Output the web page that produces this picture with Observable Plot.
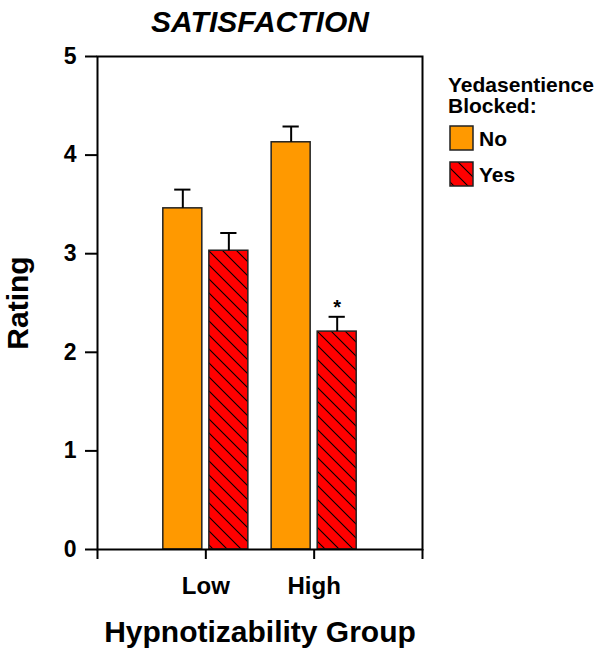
<!DOCTYPE html>
<html><head><meta charset="utf-8">
<script src="https://cdn.jsdelivr.net/npm/d3@7"></script>
<script src="https://cdn.jsdelivr.net/npm/@observablehq/plot@0.6"></script>
<style>
body{margin:0;background:#fff;}
#wrap{position:relative;width:600px;height:650px;font-family:"Liberation Sans",Arial,sans-serif;}
#legend{position:absolute;left:440px;top:60px;}
</style></head><body><div id="wrap"></div>
<script>
const groups = ["Low", "High"];
const series = ["No", "Yes"];
const noMeans = [3.46, 4.13];
const noErrors = [0.19, 0.16];
const yesMeans = [3.03, 2.21];
const yesErrors = [0.18, 0.15];
const yesSignificant = [false, true];
const xTickLabels = ["", "Low", "High", ""];
const xTicks = [0, 1, 2, 3];
const yTicks = [0, 1, 2, 3, 4, 5];
const seriesColors = ["#FF9900", "#FF0000"];
const titleText = "SATISFACTION";
const xTitle = "Hypnotizability Group";
const yTitle = "Rating";
const legendTitle = ["Yedasentience", "Blocked:"];

const data = [];
groups.forEach((g, i) => {
  data.push({group: g, gi: i, series: series[0], si: 0, value: noMeans[i], err: noErrors[i], sig: false});
  data.push({group: g, gi: i, series: series[1], si: 1, value: yesMeans[i], err: yesErrors[i], sig: yesSignificant[i]});
});

const barW = 0.36, halfGap = 0.0325, capHalf = 0.075;
const bx1 = d => d.gi + 1 + (d.si === 0 ? -halfGap - barW : halfGap);
const bx2 = d => bx1(d) + barW;
const bxc = d => bx1(d) + barW / 2;
const FONT = "Liberation Sans, Arial, sans-serif";

const chart = Plot.plot({
  width: 600, height: 650,
  marginTop: 56, marginBottom: 101, marginLeft: 97, marginRight: 178,
  style: {fontFamily: FONT, color: "black", background: "white", overflow: "visible"},
  x: {type: "linear", domain: [0, 3]},
  y: {domain: [0, 5]},
  color: {type: "identity"},
  marks: [
    Plot.rect(data, {x1: bx1, x2: bx2, y1: 0, y2: "value",
      fill: d => d.si === 0 ? seriesColors[0] : "url(#hatch)", stroke: "#222", strokeWidth: 1.5}),
    Plot.ruleX(data, {x: bxc, y1: "value", y2: d => d.value + d.err, stroke: "black", strokeWidth: 2}),
    Plot.ruleY(data, {y: d => d.value + d.err, x1: d => bxc(d) - capHalf, x2: d => bxc(d) + capHalf, stroke: "black", strokeWidth: 2}),
    Plot.text(data.filter(d => d.sig), {x: bxc, y: d => d.value + d.err, text: () => "*", dy: -9, fontSize: 20, fontWeight: "bold", fill: "black"}),
    Plot.frame({stroke: "black", strokeWidth: 2}),
    Plot.axisY({ticks: yTicks, tickFormat: d => String(d), tickSize: 12, tickPadding: 9, fontSize: 23, fontWeight: "bold", strokeWidth: 2, label: null}),
    Plot.axisX({ticks: xTicks, tickFormat: d => xTickLabels[d], tickSize: 10, tickPadding: 17, fontSize: 24, fontWeight: "bold", strokeWidth: 2, label: null}),
    Plot.text([titleText], {frameAnchor: "top", lineAnchor: "middle", dy: -34, fontSize: 30, fontWeight: "bold", fontStyle: "italic", fill: "black"}),
    Plot.text([xTitle], {frameAnchor: "bottom", lineAnchor: "middle", dy: 83, fontSize: 30, fontWeight: "bold", fill: "black"}),
    Plot.text([yTitle], {frameAnchor: "left", textAnchor: "middle", lineAnchor: "middle", dx: -79, rotate: -90, fontSize: 30, fontWeight: "bold", fill: "black"})
  ]
});

const hatchDef = (id) => `<pattern id="${id}" patternUnits="userSpaceOnUse" width="14" height="14">
  <rect width="14" height="14" fill="${seriesColors[1]}"/>
  <path d="M0,0L14,14M-2,12L2,16M12,-2L16,2" stroke="black" stroke-width="1.1"/>
</pattern>`;
d3.select(chart).insert("defs", ":first-child").html(hatchDef("hatch"));
document.getElementById("wrap").appendChild(chart);

// Legend
const leg = d3.select("#wrap").append("svg").attr("id", "legend")
  .attr("width", 160).attr("height", 140)
  .style("font-family", FONT);
leg.append("defs").html(hatchDef("hatch2"));
legendTitle.forEach((t, i) => {
  leg.append("text").attr("x", 8).attr("y", 32 + i * 21)
    .attr("font-size", 21).attr("font-weight", "bold").text(t);
});
series.forEach((s, i) => {
  const top = i === 0 ? 66 : 102;
  leg.append("rect").attr("x", 10).attr("y", top).attr("width", 23).attr("height", 24)
    .attr("fill", i === 0 ? seriesColors[0] : "url(#hatch2)")
    .attr("stroke", "#222").attr("stroke-width", 1.5);
  leg.append("text").attr("x", 39).attr("y", top + 20)
    .attr("font-size", 21).attr("font-weight", "bold").text(s);
});
</script></body></html>
